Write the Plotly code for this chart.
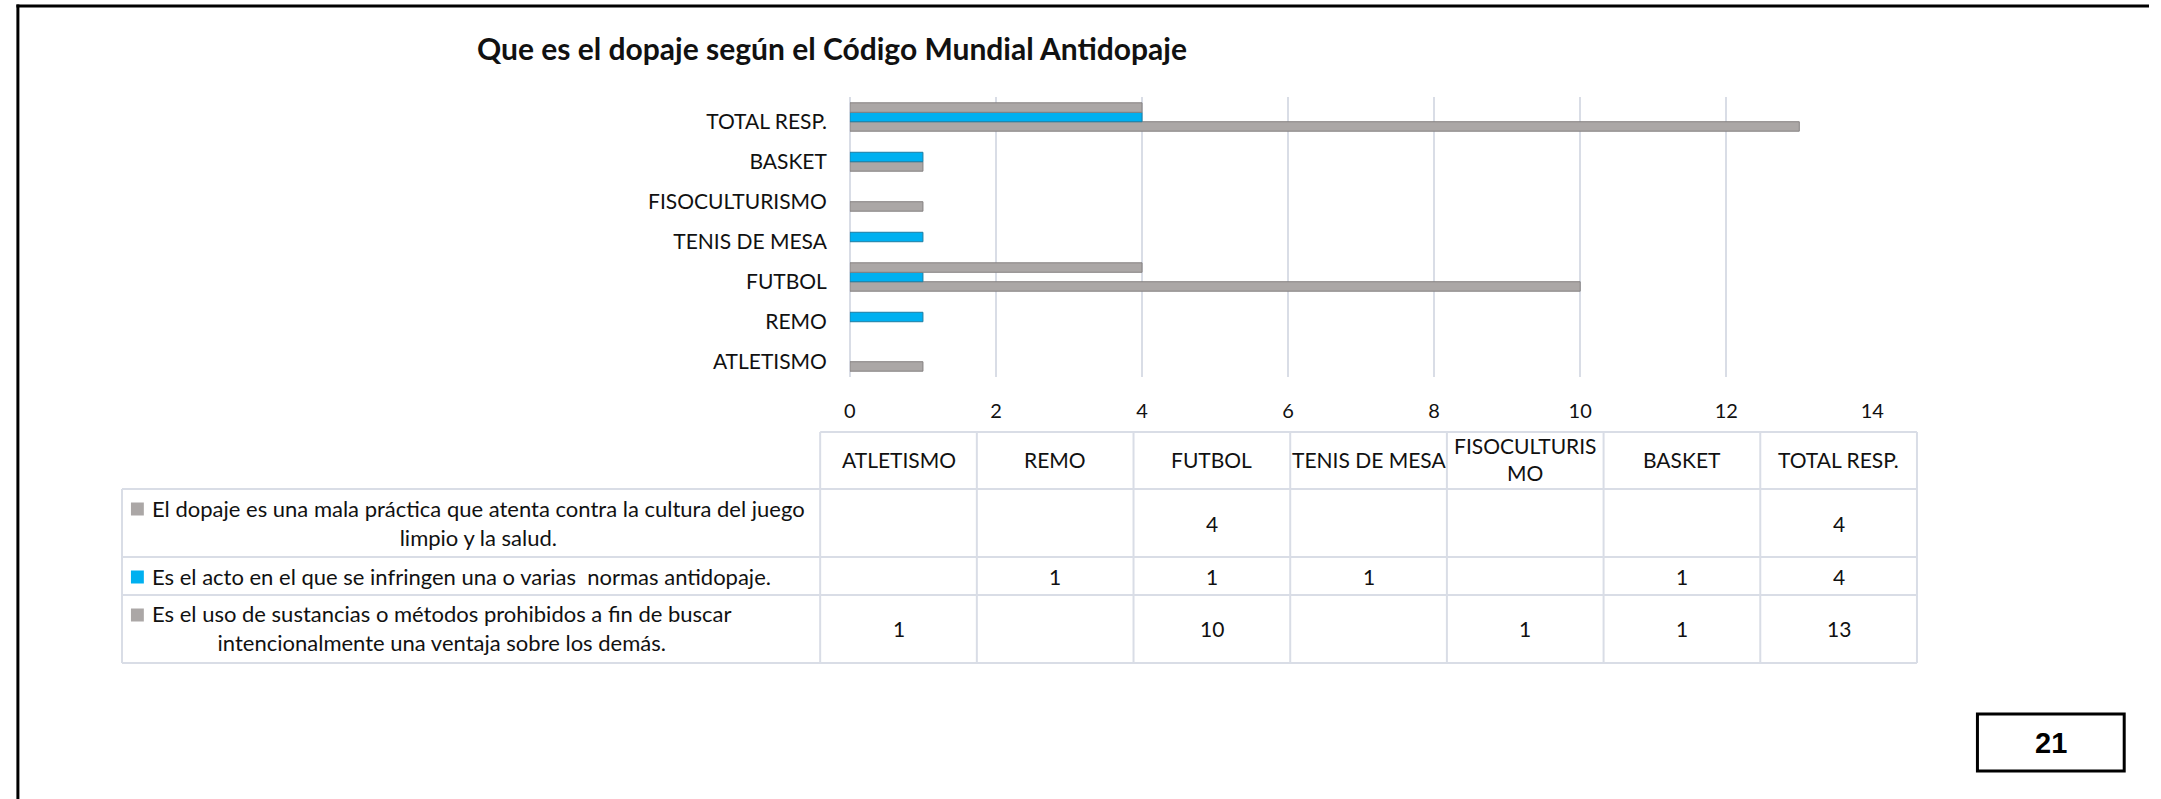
import plotly.graph_objects as go

# ---- data -------------------------------------------------------------
sports = ["ATLETISMO", "REMO", "FUTBOL", "TENIS DE MESA",
          "FISOCULTURISMO", "BASKET", "TOTAL RESP."]
header_labels = ["ATLETISMO", "REMO", "FUTBOL", "TENIS DE MESA",
                 "FISOCULTURIS<br>MO", "BASKET", "TOTAL RESP."]

mala_practica = [None, None, 4, None, None, None, 4]
acto_infringe = [None, 1, 1, 1, None, 1, 4]
uso_sustancias = [1, None, 10, None, 1, 1, 13]

name_mala = ("El dopaje es una mala práctica que atenta contra la cultura del juego"
             "<br>limpio y la salud.")
name_acto = "Es el acto en el que se infringen una o varias\u00a0 normas antidopaje."
name_uso = ("Es el uso de sustancias o métodos prohibidos a fin de buscar"
            "<br>intencionalmente una ventaja sobre los demás.")

title_text = "Que es el dopaje según el Código Mundial Antidopaje"
page_number = "21"

# ---- styling ----------------------------------------------------------
W, H = 2161, 799
GREY = "#ABA7A6"
BLUE = "#00B0F0"
GRID = "#D9DDE6"
FONT = "Lato"
TXT = "#111111"


def px(x):
    return x / W


def py(y):
    return 1 - y / H


fig = go.Figure()

# bars: first trace sits lowest inside each category group
for vals, name, col, edge in [
    (uso_sustancias, name_uso, GREY, "#858181"),
    (acto_infringe, name_acto, BLUE, "#1f7ea3"),
    (mala_practica, name_mala, GREY, "#858181"),
]:
    fig.add_trace(go.Bar(
        x=vals, y=sports, orientation="h", name=name.replace("<br>", " "),
        marker=dict(color=col, line=dict(color=edge, width=1)),
        showlegend=False,
    ))

fig.update_layout(
    width=W, height=H,
    margin=dict(l=0, r=0, t=0, b=0),
    paper_bgcolor="white", plot_bgcolor="white",
    barmode="group", bargap=0.29, bargroupgap=0,
    font=dict(family=FONT, size=21, color=TXT),
    xaxis=dict(domain=[px(851), px(1882)], range=[0, 14], dtick=2,
               showgrid=True, gridcolor=GRID, gridwidth=2,
               zeroline=True, zerolinecolor=GRID, zerolinewidth=2,
               showline=False, ticks="", ticklabelstandoff=20,
               tickfont=dict(size=20, family=FONT, color=TXT), fixedrange=True),
    yaxis=dict(domain=[py(377), py(97)], type="category",
               categoryorder="array", categoryarray=sports,
               showgrid=False, zeroline=False, showline=False, ticks="",
               ticklabelstandoff=22, ticklabelshift=5,
               tickfont=dict(size=21, family=FONT, color=TXT), fixedrange=True),
)

shapes = []
annotations = []

# title
annotations.append(dict(
    x=px(833), y=py(48), xref="paper", yref="paper", showarrow=False,
    xanchor="center", yanchor="middle", text="<b>" + title_text + "</b>",
    font=dict(family=FONT, size=30, color=TXT)))

# ---- data table under the chart --------------------------------------
col_edges = [821, 979, 1137, 1295, 1453, 1611, 1769, 1927]
row_edges = [432, 489, 557, 595, 663]
tbl_left = 117
line_style = dict(color=GRID, width=2)


def hline(x0, x1, y):
    shapes.append(dict(type="line", xref="paper", yref="paper",
                       x0=px(x0), x1=px(x1), y0=py(y), y1=py(y), line=line_style))


def vline(x, y0, y1):
    shapes.append(dict(type="line", xref="paper", yref="paper",
                       x0=px(x), x1=px(x), y0=py(y0), y1=py(y1), line=line_style))


hline(col_edges[0], col_edges[-1], row_edges[0])
for y in row_edges[1:]:
    hline(tbl_left, col_edges[-1], y)
vline(tbl_left, row_edges[1], row_edges[-1])
for x in col_edges:
    vline(x, row_edges[0], row_edges[-1])

# header row
for i, lab in enumerate(header_labels):
    cx = (col_edges[i] + col_edges[i + 1]) / 2
    annotations.append(dict(
        x=px(cx), y=py(459), xref="paper", yref="paper", showarrow=False,
        xanchor="center", yanchor="middle", text=lab, align="center",
        font=dict(family=FONT, size=21, color=TXT)))

# series rows: legend key + label + values
rows = [
    (mala_practica, name_mala, GREY, 523, 509),
    (acto_infringe, name_acto, BLUE, 576, 577),
    (uso_sustancias, name_uso, GREY, 628, 615),
]
for vals, name, col, yc, ykey in rows:
    shapes.append(dict(type="rect", xref="paper", yref="paper",
                       x0=px(126), x1=px(139), y0=py(ykey - 6.5), y1=py(ykey + 6.5),
                       fillcolor=col, line=dict(width=0)))
    annotations.append(dict(
        x=px(145), y=py(yc), xref="paper", yref="paper", showarrow=False,
        xanchor="left", yanchor="middle", text=name, align="center",
        font=dict(family=FONT, size=22, color=TXT)))
    for i, v in enumerate(vals):
        if v is None:
            continue
        cx = (col_edges[i] + col_edges[i + 1]) / 2
        annotations.append(dict(
            x=px(cx), y=py(yc), xref="paper", yref="paper", showarrow=False,
            xanchor="center", yanchor="middle", text=str(v),
            font=dict(family=FONT, size=21, color=TXT)))

# ---- page frame and page number --------------------------------------
shapes.append(dict(type="line", xref="paper", yref="paper",
                   x0=px(10.5), x1=1, y0=py(6), y1=py(6),
                   line=dict(color="black", width=3)))
shapes.append(dict(type="line", xref="paper", yref="paper",
                   x0=px(12), x1=px(12), y0=py(4.5), y1=0,
                   line=dict(color="black", width=3)))
shapes.append(dict(type="rect", xref="paper", yref="paper",
                   x0=px(1988), x1=px(2136), y0=py(714), y1=py(771),
                   line=dict(color="black", width=3), fillcolor="white"))
annotations.append(dict(
    x=px(2062), y=py(743), xref="paper", yref="paper", showarrow=False,
    xanchor="center", yanchor="middle", text="<b>" + page_number + "</b>",
    font=dict(family="Liberation Sans", size=29, color="black")))

fig.update_layout(shapes=shapes, annotations=annotations)

fig.write_html("out.html")
